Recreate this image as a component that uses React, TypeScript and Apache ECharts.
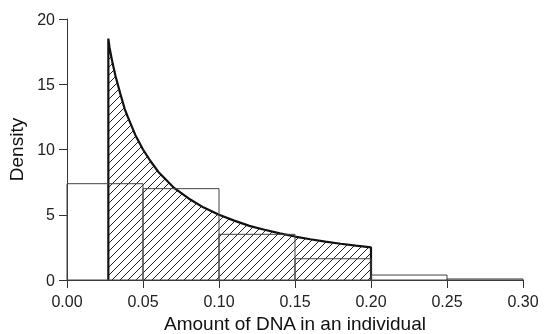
import React, { useEffect, useRef } from "react";
import * as echarts from "echarts";

// Histogram bins (left edge, right edge, density)
const binStarts = [0.0, 0.05, 0.1, 0.15, 0.2, 0.25];
const binEnds = [0.05, 0.1, 0.15, 0.2, 0.25, 0.3];
const binDensity = [7.38, 7.0, 3.5, 1.63, 0.38, 0.08];

// Density curve
const curveX = [0.0272, 0.028, 0.03, 0.032, 0.035, 0.038, 0.04, 0.045, 0.05, 0.055, 0.06, 0.07, 0.08, 0.09, 0.1, 0.11, 0.12, 0.13, 0.14, 0.15, 0.16, 0.17, 0.18, 0.19, 0.2];
const curveY = [18.5, 17.8, 16.6, 15.6, 14.3, 13.1, 12.5, 11.1, 10.0, 9.1, 8.3, 7.1, 6.25, 5.55, 5.0, 4.55, 4.15, 3.85, 3.57, 3.33, 3.12, 2.94, 2.78, 2.63, 2.5];

const xTicks = [0, 0.05, 0.1, 0.15, 0.2, 0.25, 0.3];
const yTicks = [0, 5, 10, 15, 20];

function makeHatch(): HTMLCanvasElement {
  const s = 8;
  const c = document.createElement("canvas");
  c.width = s;
  c.height = s;
  const ctx = c.getContext("2d")!;
  ctx.strokeStyle = "#222";
  ctx.lineWidth = 1;
  ctx.beginPath();
  ctx.moveTo(-1, s + 1);
  ctx.lineTo(s + 1, -1);
  ctx.moveTo(-1, 1);
  ctx.lineTo(1, -1);
  ctx.moveTo(s - 1, s + 1);
  ctx.lineTo(s + 1, s - 1);
  ctx.stroke();
  return c;
}

export default function App() {
  const ref = useRef<HTMLDivElement>(null);
  useEffect(() => {
    if (!ref.current) return;
    const chart = echarts.init(ref.current, undefined, { renderer: "svg" });
    const first = curveX[0];
    const last = curveX[curveX.length - 1];
    const curveData: number[][] = [[first, 0]];
    curveX.forEach((x, i) => curveData.push([x, curveY[i]]));
    curveData.push([last, 0]);
    const bins = binStarts.map((s, i) => [s, binEnds[i], binDensity[i]]);
    const font = "Liberation Sans";
    chart.setOption({
      animation: false,
      grid: {
        left: 67,
        right: 22,
        top: 19,
        bottom: 54,
        containLabel: false,
        outerBoundsMode: "none",
      },
      xAxis: {
        type: "value",
        min: xTicks[0],
        max: xTicks[xTicks.length - 1],
        interval: 0.05,
        name: "Amount of DNA in an individual",
        nameLocation: "middle",
        nameGap: 34,
        nameTextStyle: { fontFamily: font, fontSize: 19, color: "#111", lineHeight: 19 },
        axisLine: { show: true, lineStyle: { color: "#333", width: 1 } },
        axisTick: { show: true, length: 8, lineStyle: { color: "#333" } },
        axisLabel: {
          fontFamily: font,
          fontSize: 16,
          color: "#222",
          margin: 13,
          formatter: (v: number) => v.toFixed(2),
          showMinLabel: true,
          showMaxLabel: true,
        },
        splitLine: { show: false },
      },
      yAxis: {
        type: "value",
        min: yTicks[0],
        max: yTicks[yTicks.length - 1],
        interval: 5,
        name: "Density",
        nameLocation: "middle",
        nameGap: 39,
        nameTextStyle: { fontFamily: font, fontSize: 19, color: "#111" },
        axisLine: { show: true, lineStyle: { color: "#333", width: 1 } },
        axisTick: { show: true, length: 8, lineStyle: { color: "#333" } },
        axisLabel: { fontFamily: font, fontSize: 16, color: "#222", margin: 12 },
        splitLine: { show: false },
      },
      series: [
        {
          type: "line",
          data: curveData,
          showSymbol: false,
          symbol: "none",
          lineStyle: { color: "#111", width: 2.2 },
          areaStyle: {
            color: { image: makeHatch(), repeat: "repeat" },
            opacity: 1,
          },
          z: 2,
        },
        {
          type: "custom",
          data: bins,
          z: 3,
          renderItem: (params: any, api: any) => {
            const p0 = api.coord([api.value(0), api.value(2)]);
            const p1 = api.coord([api.value(1), 0]);
            return {
              type: "rect",
              shape: { x: p0[0], y: p0[1], width: p1[0] - p0[0], height: p1[1] - p0[1] },
              style: { fill: "none", stroke: "#444", lineWidth: 1 },
            };
          },
        },
      ],
    });
    return () => chart.dispose();
  }, []);
  return (
    <div
      ref={ref}
      style={{ position: "fixed", left: 0, top: 0, width: 545, height: 334 }}
    />
  );
}
